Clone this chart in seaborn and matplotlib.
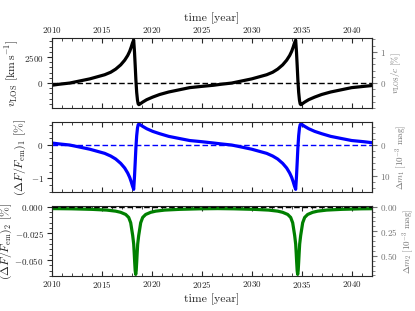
import numpy as np
import pandas as pd
import matplotlib
matplotlib.use("Agg")
import matplotlib.pyplot as plt
from matplotlib.ticker import AutoMinorLocator, MultipleLocator, FormatStrFormatter
import seaborn as sns

# line-of-sight velocity and first-order flux change
time1 = [2010.00, 2010.67, 2011.77, 2012.67, 2013.77, 2014.67, 2015.27, 2015.87,
         2016.37, 2016.87, 2017.27, 2017.57, 2017.77, 2017.92, 2018.05, 2018.17,
         2018.25, 2018.32, 2018.39, 2018.47, 2018.55, 2018.62, 2018.69, 2018.82,
         2019.07, 2019.47, 2020.07, 2020.77, 2021.67, 2022.67, 2023.77, 2024.97,
         2026.17, 2026.87, 2027.97, 2028.87, 2029.97, 2030.87, 2031.47, 2032.07,
         2032.57, 2033.07, 2033.47, 2033.77, 2033.97, 2034.12, 2034.25, 2034.37,
         2034.45, 2034.52, 2034.59, 2034.67, 2034.75, 2034.82, 2034.89, 2035.02,
         2035.27, 2035.67, 2036.27, 2036.97, 2037.87, 2038.87, 2039.97, 2041.17,
         2042.00]
v_los = [-210, -120, 0, 180, 400, 640, 800, 1040,
         1340, 1750, 2200, 2650, 3050, 3450, 3850, 4130,
         3000, 1700, 300, -900, -1650, -2000, -2080, -2000,
         -1830, -1600, -1350, -1100, -860, -660, -440, -320,
         -210, -120, 0, 180, 400, 640, 800, 1040,
         1340, 1750, 2200, 2650, 3050, 3450, 3850, 4130,
         3000, 1700, 300, -900, -1650, -2000, -2080, -2000,
         -1830, -1600, -1350, -1100, -860, -660, -440, -320,
         -240]
dflux1 = [0.06, 0.035, 0.0, -0.055, -0.125, -0.20, -0.25, -0.33,
          -0.42, -0.55, -0.69, -0.84, -0.97, -1.10, -1.23, -1.33,
          -0.95, -0.53, -0.09, 0.28, 0.51, 0.61, 0.63, 0.61,
          0.56, 0.49, 0.41, 0.34, 0.26, 0.20, 0.135, 0.10,
          0.06, 0.035, 0.0, -0.055, -0.125, -0.20, -0.25, -0.33,
          -0.42, -0.55, -0.69, -0.84, -0.97, -1.10, -1.23, -1.33,
          -0.95, -0.53, -0.09, 0.28, 0.51, 0.61, 0.63, 0.61,
          0.56, 0.49, 0.41, 0.34, 0.26, 0.20, 0.135, 0.10,
          0.07]

# second-order flux change
time2 = [2010.00, 2011.97, 2013.97, 2015.47, 2016.37, 2016.87, 2017.37, 2017.67,
         2017.87, 2018.02, 2018.07, 2018.17, 2018.22, 2018.27, 2018.32, 2018.37,
         2018.42, 2018.47, 2018.52, 2018.57, 2018.67, 2018.72, 2018.87, 2019.07,
         2019.37, 2019.87, 2020.37, 2021.27, 2022.77, 2024.77, 2026.57,
         2028.17, 2030.17, 2031.67, 2032.57, 2033.07, 2033.57, 2033.87,
         2034.07, 2034.22, 2034.27, 2034.37, 2034.42, 2034.47, 2034.52, 2034.57,
         2034.62, 2034.67, 2034.72, 2034.77, 2034.87, 2034.92, 2035.07, 2035.27,
         2035.57, 2036.07, 2036.57, 2037.47, 2038.97, 2040.97, 2042.00]
dflux2 = [-0.0017, -0.0019, -0.0024, -0.0031, -0.0041, -0.0052, -0.0072, -0.0100,
          -0.0150, -0.0240, -0.0270, -0.0350, -0.0430, -0.0520, -0.0600, -0.0635,
          -0.0600, -0.0520, -0.0430, -0.0350, -0.0270, -0.0240, -0.0150, -0.0100,
          -0.0072, -0.0052, -0.0041, -0.0031, -0.0024, -0.0019, -0.0017,
          -0.0019, -0.0024, -0.0031, -0.0041, -0.0052, -0.0072, -0.0100,
          -0.0150, -0.0240, -0.0270, -0.0350, -0.0430, -0.0520, -0.0600, -0.0635,
          -0.0600, -0.0520, -0.0430, -0.0350, -0.0270, -0.0240, -0.0150, -0.0100,
          -0.0072, -0.0052, -0.0041, -0.0031, -0.0024, -0.0019, -0.0018]

df1 = pd.DataFrame({"time": time1, "v": v_los, "f1": dflux1})
df2 = pd.DataFrame({"time": time2, "f2": dflux2})

sns.set_theme(style="ticks")
plt.rcParams.update({
    "font.family": "serif",
    "font.serif": ["cmr10"],
    "mathtext.fontset": "cm",
    "axes.formatter.use_mathtext": True,
    "axes.unicode_minus": True,
    "xtick.labelsize": 6.5,
    "ytick.labelsize": 6.5,
    "axes.labelsize": 8.5,
    "axes.linewidth": 0.8,
})

c_kms = 299792.458


def to_beta(v):
    return v / c_kms * 100


def from_beta(b):
    return b * c_kms / 100


def to_mag(x):
    return -2.5 * np.log10(1 + np.asarray(x) / 100) * 1e3


def from_mag(m):
    return (10 ** (-np.asarray(m) / 2500) - 1) * 100


fig = plt.figure(figsize=(4.15, 3.11), dpi=100)
left, width, height = 0.1253, 0.771, 0.225
ax1 = fig.add_axes([left, 0.6527, width, height])
ax2 = fig.add_axes([left, 0.3826, width, height])
ax3 = fig.add_axes([left, 0.1125, width, height])

sns.lineplot(data=df1, x="time", y="v", ax=ax1, color="black", lw=2.3)
ax1.axhline(0, color="black", ls="--", lw=1.0, dashes=(4, 2))
sns.lineplot(data=df1, x="time", y="f1", ax=ax2, color="blue", lw=2.3)
ax2.axhline(0, color="blue", ls="--", lw=1.0, dashes=(4, 2))
sns.lineplot(data=df2, x="time", y="f2", ax=ax3, color="green", lw=2.3)
ax3.axhline(0, color="black", ls="--", lw=1.0, dashes=(4, 2), zorder=5)

ax1.set_ylim(-2400, 4330)
ax1.set_yticks([0, 2500])
ax2.set_ylim(-1.41, 0.69)
ax2.set_yticks([-1, 0])
ax3.set_ylim(-0.065, 0.0007)
ax3.set_yticks([-0.05, -0.025, 0.0])

ax1.set_ylabel(r"$v_{\rm LOS}\ [{\rm km\,s^{-1}}]$", labelpad=2)
ax2.set_ylabel(r"$(\Delta F/F_{\rm em})_1\ [\%]$", labelpad=2)
ax3.set_ylabel(r"$(\Delta F/F_{\rm em})_2\ [\%]$")
ax3.yaxis.set_label_coords(-0.118, 0.5)

for ax in (ax1, ax2, ax3):
    ax.set_xlim(2010, 2042)
    ax.xaxis.set_major_locator(MultipleLocator(5))
    ax.xaxis.set_minor_locator(MultipleLocator(1))
    ax.yaxis.set_minor_locator(AutoMinorLocator())
    ax.tick_params(axis="x", which="both", direction="in", top=True, bottom=True)
    ax.tick_params(axis="y", which="both", direction="out", right=False)
    ax.tick_params(which="major", length=3.5, width=0.8, pad=2.5)
    ax.tick_params(which="minor", length=2, width=0.6)

ax1.tick_params(axis="x", labeltop=True, labelbottom=False)
ax1.xaxis.set_label_position("top")
ax1.set_xlabel("time [year]", labelpad=2)
ax2.tick_params(axis="x", labelbottom=False)
ax2.set_xlabel("")
ax3.set_xlabel("time [year]", labelpad=2)

grey = "0.45"
sec1 = ax1.secondary_yaxis("right", functions=(to_beta, from_beta))
sec1.set_yticks([0, 1])
sec1.set_ylabel(r"$v_{\rm LOS}/c\ [\%]$", fontsize=6.5, color=grey, labelpad=2)
sec2 = ax2.secondary_yaxis("right", functions=(to_mag, from_mag))
sec2.set_yticks([0, 10])
sec2.set_ylabel(r"$\Delta m_1\ [10^{-3}\ {\rm mag}]$", fontsize=6.5, color=grey, labelpad=2)
sec3 = ax3.secondary_yaxis("right", functions=(to_mag, from_mag))
sec3.set_yticks([0.0, 0.25, 0.5])
sec3.set_ylabel(r"$\Delta m_2\ [10^{-3}\ {\rm mag}]$", fontsize=6.5, color=grey, labelpad=2)
sec3.yaxis.set_major_formatter(FormatStrFormatter("$%.2f$"))

for sec in (sec1, sec2, sec3):
    sec.yaxis.set_minor_locator(AutoMinorLocator())
    sec.tick_params(which="both", colors=grey, labelcolor=grey)
    sec.tick_params(which="major", length=3.5, width=0.8, pad=2.5)
    sec.tick_params(which="minor", length=2, width=0.6)
    sec.spines["right"].set_color("black")

fig.savefig("out.png", dpi=100)
